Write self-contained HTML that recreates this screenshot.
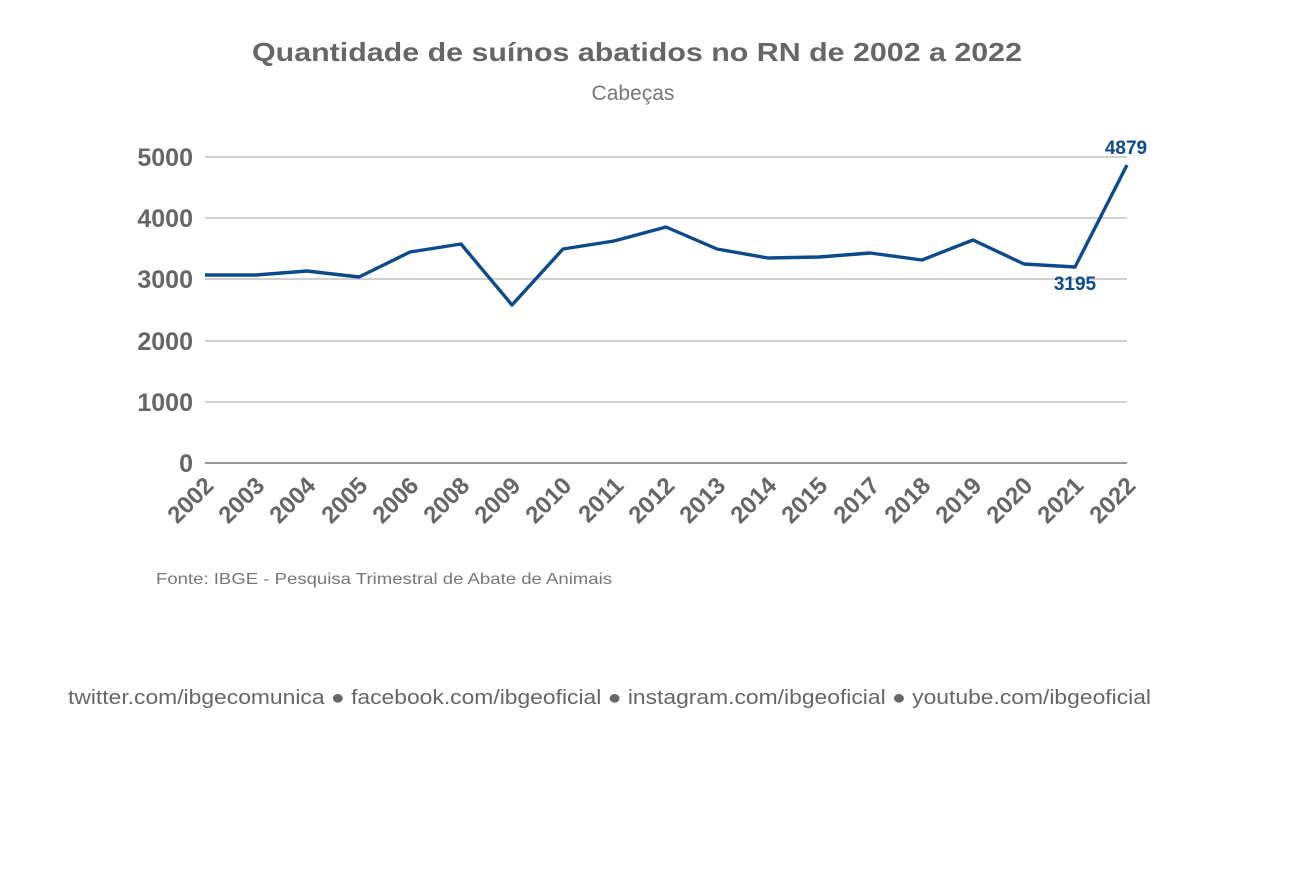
<!DOCTYPE html>
<html><head><meta charset="utf-8"><style>
html,body{margin:0;padding:0;background:#fff;}
svg{display:block;}
</style></head><body>
<svg width="1315" height="886" xmlns="http://www.w3.org/2000/svg" font-family="Liberation Sans, Arial, sans-serif">
<rect width="1315" height="886" fill="#fff"/>
<text x="637" y="61" text-anchor="middle" font-size="26" font-weight="bold" fill="#666" textLength="770" lengthAdjust="spacingAndGlyphs">Quantidade de suínos abatidos no RN de 2002 a 2022</text>
<text x="633" y="100" text-anchor="middle" font-size="21" fill="#777">Cabeças</text>
<g stroke="#d0d0d0" stroke-width="2">
<line x1="205" x2="1127" y1="157" y2="157"/>
<line x1="205" x2="1127" y1="218" y2="218"/>
<line x1="205" x2="1127" y1="279" y2="279"/>
<line x1="205" x2="1127" y1="341" y2="341"/>
<line x1="205" x2="1127" y1="402" y2="402"/>
</g>
<line x1="205" x2="1127" y1="463" y2="463" stroke="#999" stroke-width="2"/>
<g font-size="25" font-weight="bold" fill="#666" text-anchor="end">
<text x="193" y="166">5000</text>
<text x="193" y="227">4000</text>
<text x="193" y="288">3000</text>
<text x="193" y="350">2000</text>
<text x="193" y="411">1000</text>
<text x="193" y="472">0</text>
</g>
<g font-size="24" font-weight="bold" fill="#666" text-anchor="end">
<text transform="translate(215,487) rotate(-45)">2002</text>
<text transform="translate(266,487) rotate(-45)">2003</text>
<text transform="translate(317,487) rotate(-45)">2004</text>
<text transform="translate(369,487) rotate(-45)">2005</text>
<text transform="translate(420,487) rotate(-45)">2006</text>
<text transform="translate(471,487) rotate(-45)">2008</text>
<text transform="translate(522,487) rotate(-45)">2009</text>
<text transform="translate(573,487) rotate(-45)">2010</text>
<text transform="translate(625,487) rotate(-45)">2011</text>
<text transform="translate(676,487) rotate(-45)">2012</text>
<text transform="translate(727,487) rotate(-45)">2013</text>
<text transform="translate(778,487) rotate(-45)">2014</text>
<text transform="translate(829,487) rotate(-45)">2015</text>
<text transform="translate(881,487) rotate(-45)">2017</text>
<text transform="translate(932,487) rotate(-45)">2018</text>
<text transform="translate(983,487) rotate(-45)">2019</text>
<text transform="translate(1034,487) rotate(-45)">2020</text>
<text transform="translate(1085,487) rotate(-45)">2021</text>
<text transform="translate(1137,487) rotate(-45)">2022</text>
</g>
<polyline fill="none" stroke="#0d4a8c" stroke-width="3.4" stroke-linejoin="round" points="205,275 256,275 307,271 359,277 410,252 461,244 512,305 563,249 614,241 666,227 717,249 768,258 819,257 870,253 922,260 973,240 1024,264 1075,267 1127,165"/>
<text x="1126" y="154" text-anchor="middle" font-size="19" font-weight="bold" fill="#0d4a8c">4879</text>
<text x="1075" y="290" text-anchor="middle" font-size="19" font-weight="bold" fill="#0d4a8c">3195</text>
<text x="156" y="584" font-size="16" fill="#777" textLength="456" lengthAdjust="spacingAndGlyphs">Fonte: IBGE - Pesquisa Trimestral de Abate de Animais</text>
<text x="68" y="704" font-size="20" fill="#666" textLength="1083" lengthAdjust="spacingAndGlyphs">twitter.com/ibgecomunica ● facebook.com/ibgeoficial ● instagram.com/ibgeoficial ● youtube.com/ibgeoficial</text>
</svg>
</body></html>
